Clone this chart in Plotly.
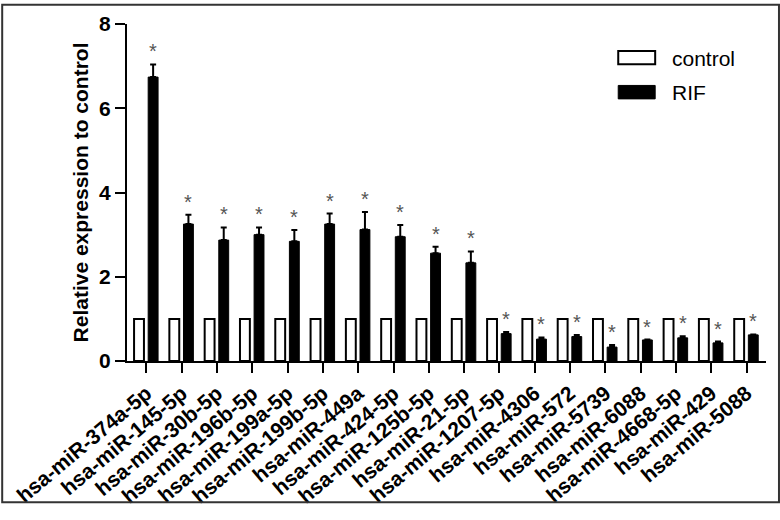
import plotly.graph_objects as go

mirnas = ['hsa-miR-374a-5p', 'hsa-miR-145-5p', 'hsa-miR-30b-5p', 'hsa-miR-196b-5p',
          'hsa-miR-199a-5p', 'hsa-miR-199b-5p', 'hsa-miR-449a', 'hsa-miR-424-5p',
          'hsa-miR-125b-5p', 'hsa-miR-21-5p', 'hsa-miR-1207-5p', 'hsa-miR-4306',
          'hsa-miR-572', 'hsa-miR-5739', 'hsa-miR-6088', 'hsa-miR-4668-5p',
          'hsa-miR-429', 'hsa-miR-5088']
control = [1] * 18
rif = [6.74, 3.25, 2.87, 3.0, 2.84, 3.25, 3.12, 2.95, 2.56, 2.33,
       0.65, 0.52, 0.58, 0.33, 0.50, 0.55, 0.43, 0.62]
rif_err = [0.3, 0.22, 0.3, 0.17, 0.27, 0.25, 0.42, 0.28, 0.15, 0.27,
           0.04, 0.04, 0.04, 0.05, 0.01, 0.04, 0.03, 0.01]

pos = list(range(len(mirnas)))
FONT = 'Arial, Liberation Sans, sans-serif'

fig = go.Figure()
fig.add_trace(go.Bar(x=pos, y=control, name='control', offset=-0.35, width=0.28,
                     marker=dict(color='white', line=dict(color='black', width=2))))
fig.add_trace(go.Bar(x=pos, y=rif, name='RIF', offset=0.05, width=0.28,
                     marker=dict(color='black', line=dict(color='black', width=1)),
                     error_y=dict(type='data', array=rif_err, arrayminus=[0] * 18,
                                  symmetric=False, color='black', thickness=2, width=3)))

# significance stars
for p, v, e in zip(pos, rif, rif_err):
    fig.add_annotation(x=p + 0.19, y=v + e, text='*', showarrow=False, yanchor='bottom',
                       yshift=0, font=dict(family=FONT, size=20, color='#555555'))

# legend drawn by hand (GraphPad style long swatches)
W, H, L, B = 640, 351, 126, 372
def px(x): return (x - L) / W
def py(y): return (B - y) / H

fig.add_shape(type='rect', xref='paper', yref='paper', x0=px(618), x1=px(655), y0=py(63), y1=py(49),
              line=dict(color='black', width=2), fillcolor='white')
fig.add_shape(type='rect', xref='paper', yref='paper', x0=px(618), x1=px(655), y0=py(99), y1=py(85),
              line=dict(color='black', width=1), fillcolor='black')
fig.add_annotation(xref='paper', yref='paper', x=px(670), y=py(57), text='control', showarrow=False,
                   xanchor='left', yanchor='middle', font=dict(family=FONT, size=21, color='black'))
fig.add_annotation(xref='paper', yref='paper', x=px(670), y=py(92), text='RIF', showarrow=False,
                   xanchor='left', yanchor='middle', font=dict(family=FONT, size=21, color='black'))

# outer frame
fig.add_shape(type='rect', xref='paper', yref='paper', x0=px(1), x1=px(779), y0=py(519), y1=py(1),
              line=dict(color='#333333', width=2))

fig.update_layout(
    width=780, height=520,
    margin=dict(l=126, r=14, t=21, b=148),
    plot_bgcolor='white', paper_bgcolor='white',
    showlegend=False,
    font=dict(family=FONT, color='black'),
)
fig.update_xaxes(range=[-0.55, 17.55], tickvals=pos, ticktext=mirnas, tickangle=-40,
                 showline=True, linecolor='black', linewidth=2, ticks='outside',
                 ticklen=10, tickwidth=2, tickcolor='black', showgrid=False, zeroline=False,
                 tickfont=dict(family=FONT, size=21, color='black', weight='bold'))
fig.update_yaxes(range=[0, 8], tickvals=[0, 2, 4, 6, 8], showline=True, linecolor='black',
                 linewidth=2, ticks='outside', ticklen=10, tickwidth=2, tickcolor='black',
                 showgrid=False, zeroline=False,
                 tickfont=dict(family=FONT, size=21, color='black', weight='bold'),
                 title=dict(text='Relative expression to control', standoff=5,
                            font=dict(family=FONT, size=21, color='black', weight='bold')))

# drop the default 8px page margin so the figure sits at the window corner
fig.write_html('out.html', config={'displayModeBar': False},
               post_script="document.body.style.margin='0';")
